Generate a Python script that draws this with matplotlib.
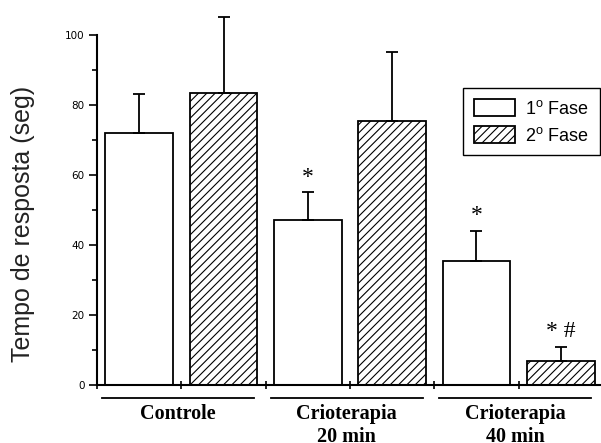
import matplotlib
matplotlib.use("Agg")
import matplotlib.pyplot as plt
import numpy as np

# values
groups = ["Controle", "Crioterapia\n20 min", "Crioterapia\n40 min"]
fase1_mean = [72, 47, 35.5]
fase1_err = [11, 8, 8.5]
fase2_mean = [83.5, 75.5, 7]
fase2_err = [21.5, 19.5, 4]
fase1_marks = ["", "*", "*"]
fase2_marks = ["", "", "* #"]
legend_labels = [r"1$^\mathrm{o}$ Fase", r"2$^\mathrm{o}$ Fase"]
y_ticks = [0, 20, 40, 60, 80, 100]

plt.rcParams["mathtext.fontset"] = "custom"
plt.rcParams["mathtext.rm"] = "Liberation Sans"
plt.rcParams["hatch.linewidth"] = 0.8

fig = plt.figure(figsize=(6.01, 4.43), dpi=100)
ax = fig.add_axes([97 / 601, 58 / 443, 506 / 601, 350 / 443])

n = len(groups)
x1 = np.arange(n) * 2 + 1.0
x2 = x1 + 1.0
width = 0.8
err_kw = dict(ecolor="black", elinewidth=1.3, capthick=1.3, capsize=4, clip_on=False)

b1 = ax.bar(x1, fase1_mean, width, color="white", edgecolor="black", linewidth=1.3,
            yerr=[np.zeros(n), fase1_err], error_kw=err_kw, label=legend_labels[0])
b2 = ax.bar(x2, fase2_mean, width, color="white", edgecolor="black", linewidth=1.3,
            hatch="////", yerr=[np.zeros(n), fase2_err], error_kw=err_kw,
            label=legend_labels[1])

# significance marks above the error bars
for xs, means, errs, marks in [(x1, fase1_mean, fase1_err, fase1_marks),
                               (x2, fase2_mean, fase2_err, fase2_marks)]:
    for xi, m, e, s in zip(xs, means, errs, marks):
        if s:
            ax.annotate(s, (xi, m + e), xytext=(0, 3.5), textcoords="offset points",
                        ha="center", va="bottom", fontsize=17,
                        family="Liberation Serif", annotation_clip=False)

ax.set_xlim(0.5, 6.5)
ax.set_ylim(0, 100)
ax.set_yticks(y_ticks)
ax.set_yticks(np.arange(10, 100, 20), minor=True)
ax.set_xticks(np.arange(0.5, 6.0, 1.0))
ax.set_xticklabels([])
ax.tick_params(axis="y", which="major", direction="out", length=6, width=1.2,
               labelsize=7.5, pad=3)
ax.tick_params(axis="y", which="minor", direction="out", length=3.5, width=1.2)
ax.tick_params(axis="x", direction="inout", length=6, width=1.2)
for side in ["top", "right"]:
    ax.spines[side].set_visible(False)
for side in ["left", "bottom"]:
    ax.spines[side].set_linewidth(1.5)

ax.set_ylabel("Tempo de resposta (seg)", fontsize=18, family="Liberation Sans",
              color="#222222")
ax.yaxis.set_label_coords(-0.146, 0.46)
ax.yaxis.label.set_verticalalignment("center")

# group lines and labels under the axis
trans = ax.get_xaxis_transform()
for i, g in enumerate(groups):
    c = x1[i] + 0.5
    ax.plot([c - 0.94, c + 0.86], [-0.037, -0.037], color="black", lw=1.3,
            transform=trans, clip_on=False)
    ax.text(c - 0.04, -0.055, g, transform=trans, ha="center", va="top",
            fontsize=14.5, fontweight="bold", family="Liberation Serif",
            linespacing=1.2)

fig.legend(handles=[b1, b2], labels=legend_labels, loc="upper left",
           bbox_to_anchor=(463 / 601, 1 - 88 / 443), borderaxespad=0,
           fancybox=False, frameon=True, edgecolor="black", framealpha=1,
           prop={"family": "Liberation Sans", "size": 13},
           handlelength=2.3, handleheight=1.1, handletextpad=0.55,
           labelspacing=0.45, borderpad=0.6)
fig.legends[0].get_frame().set_linewidth(1.0)

fig.savefig("out.png", dpi=100)
